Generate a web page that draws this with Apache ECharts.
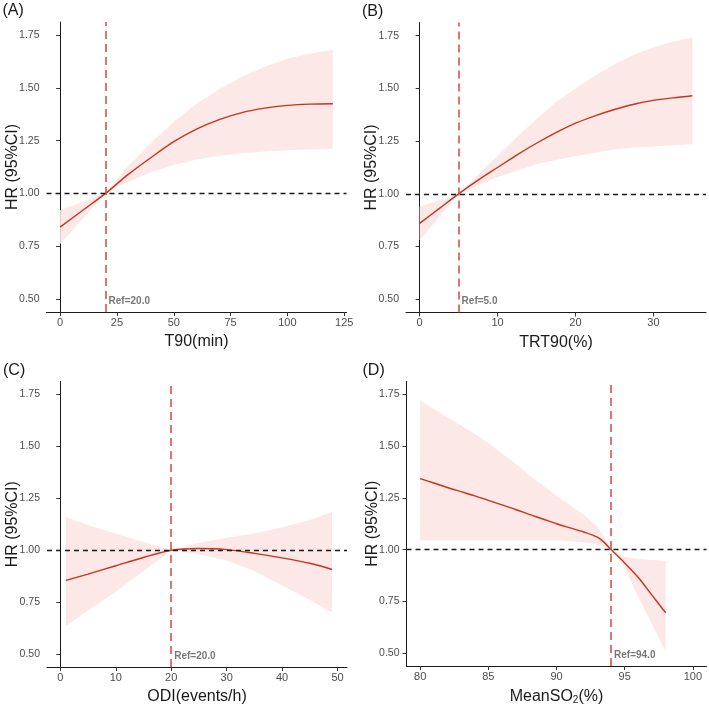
<!DOCTYPE html>
<html>
<head>
<meta charset="utf-8">
<script src="https://cdn.jsdelivr.net/npm/echarts@6/dist/echarts.min.js"></script>
<style>
  html, body { margin: 0; padding: 0; background: #fff; }
  #chart-container { width: 709px; height: 706px; }
</style>
</head>
<body>
<div id="chart-container"></div>
<script>
// panel A: T90(min)
var aX   = [0, 10, 20, 25, 30, 40, 50, 60, 70, 80, 90, 100, 110, 120];
var aFit = [0.84, 0.92, 1.00, 1.045, 1.09, 1.17, 1.245, 1.305, 1.35, 1.383, 1.404, 1.417, 1.423, 1.425];
var aLow = [0.76, 0.88, 1.00, 1.03, 1.055, 1.10, 1.135, 1.16, 1.178, 1.19, 1.199, 1.205, 1.209, 1.21];
var aUpp = [0.92, 0.96, 1.00, 1.065, 1.13, 1.24, 1.34, 1.425, 1.495, 1.553, 1.60, 1.638, 1.663, 1.68];

// panel B: TRT90(%)
var bX   = [0, 2.5, 5, 7.5, 10, 12.5, 15, 17.5, 20, 22.5, 25, 27.5, 30, 32.5, 35];
var bFit = [0.86, 0.93, 1.00, 1.065, 1.125, 1.185, 1.24, 1.29, 1.335, 1.37, 1.40, 1.425, 1.443, 1.455, 1.465];
var bLow = [0.78, 0.89, 1.00, 1.04, 1.08, 1.11, 1.14, 1.16, 1.18, 1.195, 1.21, 1.22, 1.225, 1.23, 1.235];
var bUpp = [0.94, 0.97, 1.00, 1.09, 1.18, 1.27, 1.355, 1.435, 1.50, 1.56, 1.615, 1.66, 1.695, 1.722, 1.74];

// panel C: ODI(events/h)
var cX   = [1, 5, 10, 15, 20, 25, 30, 35, 40, 45, 49];
var cFit = [0.855, 0.885, 0.925, 0.965, 1.00, 1.008, 1.003, 0.985, 0.963, 0.937, 0.907];
var cLow = [0.635, 0.71, 0.80, 0.90, 1.00, 0.98, 0.95, 0.90, 0.83, 0.76, 0.70];
var cUpp = [1.16, 1.12, 1.08, 1.04, 1.00, 1.035, 1.06, 1.08, 1.11, 1.145, 1.185];

// panel D: MeanSO2(%)
var dX   = [80, 81, 82, 83, 84, 85, 86, 87, 88, 89, 90, 91, 92, 93, 93.5, 94, 94.5, 95, 96, 97, 98];
var dFit = [1.343, 1.322, 1.30, 1.28, 1.26, 1.238, 1.216, 1.194, 1.17, 1.148, 1.125, 1.105, 1.085, 1.06, 1.035, 1.00, 0.968, 0.935, 0.865, 0.78, 0.695];
var dLow = [1.045, 1.045, 1.045, 1.045, 1.045, 1.045, 1.045, 1.045, 1.045, 1.045, 1.045, 1.04, 1.035, 1.025, 1.015, 1.00, 0.96, 0.91, 0.77, 0.64, 0.51];
var dUpp = [1.72, 1.68, 1.64, 1.60, 1.56, 1.515, 1.465, 1.415, 1.36, 1.31, 1.26, 1.215, 1.17, 1.11, 1.06, 1.00, 0.98, 0.965, 0.955, 0.95, 0.945];

var yTicks = [0.5, 0.75, 1.0, 1.25, 1.5, 1.75];

var panels = [
  { tag: "(A)", x: aX, fit: aFit, low: aLow, upp: aUpp, ref: 20, xmin: -6, xmax: 126, xTicks: [0, 25, 50, 75, 100, 125], xName: "T90(min)",
    left: 46.5, top: 22, width: 300 },
  { tag: "(B)", x: bX, fit: bFit, low: bLow, upp: bUpp, ref: 5, xmin: -1.75, xmax: 36.75, xTicks: [0, 10, 20, 30], xName: "TRT90(%)",
    left: 406, top: 22.5, width: 300 },
  { tag: "(C)", x: cX, fit: cFit, low: cLow, upp: cUpp, ref: 20, xmin: -2.4, xmax: 51.7, xTicks: [0, 10, 20, 30, 40, 50], xName: "ODI(events/h)",
    left: 47, top: 381.5, width: 300 },
  { tag: "(D)", x: dX, fit: dFit, low: dLow, upp: dUpp, ref: 94, xmin: 79, xmax: 101, xTicks: [80, 85, 90, 95, 100], xName: "MeanSO{sub|2}(%)",
    left: 406.5, top: 381.5, width: 300 }
];

var fontFam = "Liberation Sans, Arial, sans-serif";
var fitColor = "#c8321e";
var refColor = "#d9473a";
var bandColor = "#fbe8e7";

var dom = document.getElementById("chart-container");
var myChart = echarts.init(dom, null, { renderer: "canvas" });

var option = {
  backgroundColor: "#fff",
  animation: false,
  textStyle: { fontFamily: fontFam },
  title: [],
  grid: [],
  xAxis: [],
  yAxis: [],
  series: []
};

panels.forEach(function (p, i) {
  option.title.push({
    text: p.tag,
    left: p.left - 44,
    top: p.top - 19,
    padding: 0,
    textStyle: { fontSize: 16, fontWeight: "normal", color: "#1a1a1a", fontFamily: fontFam }
  });
  option.grid.push({ left: p.left, top: p.top, width: p.width, height: 290 });
  option.xAxis.push({
    type: "value",
    gridIndex: i,
    min: p.xmin,
    max: p.xmax,
    name: p.xName,
    nameLocation: "middle",
    nameGap: 22,
    nameMoveOverlap: false,
    nameTextStyle: {
      fontSize: 16, color: "#1a1a1a", fontFamily: fontFam,
      rich: { sub: { fontSize: 10, verticalAlign: "bottom", padding: [7, 0, 0, 0], color: "#1a1a1a" } }
    },
    splitLine: { show: false },
    axisLine: { onZero: false, lineStyle: { color: "#1a1a1a", width: 1 } },
    axisTick: { length: 4, customValues: p.xTicks, lineStyle: { color: "#333" } },
    axisLabel: { customValues: p.xTicks, fontSize: 11, color: "#4d4d4d", margin: 5, fontFamily: fontFam }
  });
  option.yAxis.push({
    type: "value",
    gridIndex: i,
    min: 0.4375,
    max: 1.8125,
    name: "HR (95%CI)",
    nameLocation: "middle",
    nameGap: 26,
    nameMoveOverlap: false,
    nameTextStyle: { fontSize: 16, color: "#1a1a1a", fontFamily: fontFam },
    splitLine: { show: false },
    axisLine: { show: true, lineStyle: { color: "#1a1a1a", width: 1 } },
    axisTick: { length: 4, customValues: yTicks, lineStyle: { color: "#333" } },
    axisLabel: {
      customValues: yTicks, fontSize: 10.5, color: "#4d4d4d", margin: 7, fontFamily: fontFam,
      formatter: function (v) { return v.toFixed(2); }
    }
  });

  var bandData = p.x.map(function (x, k) { return [x, p.low[k], p.upp[k]]; });
  var fitData = p.x.map(function (x, k) { return [x, p.fit[k]]; });

  // confidence band as one polygon: upper edge forward, lower edge back
  option.series.push({
    type: "custom", xAxisIndex: i, yAxisIndex: i, silent: true, z: 1,
    data: bandData,
    encode: { x: 0, y: [1, 2] },
    renderItem: function (params, api) {
      if (params.dataIndex !== 0) return;
      var pts = [];
      for (var k = 0; k < p.x.length; k++) pts.push(api.coord([p.x[k], p.upp[k]]));
      for (var k2 = p.x.length - 1; k2 >= 0; k2--) pts.push(api.coord([p.x[k2], p.low[k2]]));
      return { type: "polygon", shape: { points: pts }, style: { fill: bandColor } };
    }
  });
  option.series.push({
    type: "line", xAxisIndex: i, yAxisIndex: i,
    data: fitData, symbol: "none", smooth: 0.3, z: 3,
    lineStyle: { color: fitColor, width: 1.4 },
    markLine: {
      silent: true, symbol: "none", animation: false,
      label: { show: false },
      data: [
        { yAxis: 1, lineStyle: { color: "#1a1a1a", type: [5, 4], width: 1.3 } },
        { xAxis: p.ref, lineStyle: { color: refColor, type: [8, 5], width: 1.5 } }
      ]
    }
  });
  option.series.push({
    type: "scatter", xAxisIndex: i, yAxisIndex: i, z: 5,
    data: [[p.ref, 0.49]], symbolSize: 0, silent: true,
    label: {
      show: true, position: "right", distance: 3,
      formatter: "Ref=" + p.ref.toFixed(1),
      fontSize: 10, fontWeight: "bold", color: "#555", fontFamily: fontFam
    }
  });
});

myChart.setOption(option);

window.addEventListener("resize", myChart.resize);
</script>
</body>
</html>
